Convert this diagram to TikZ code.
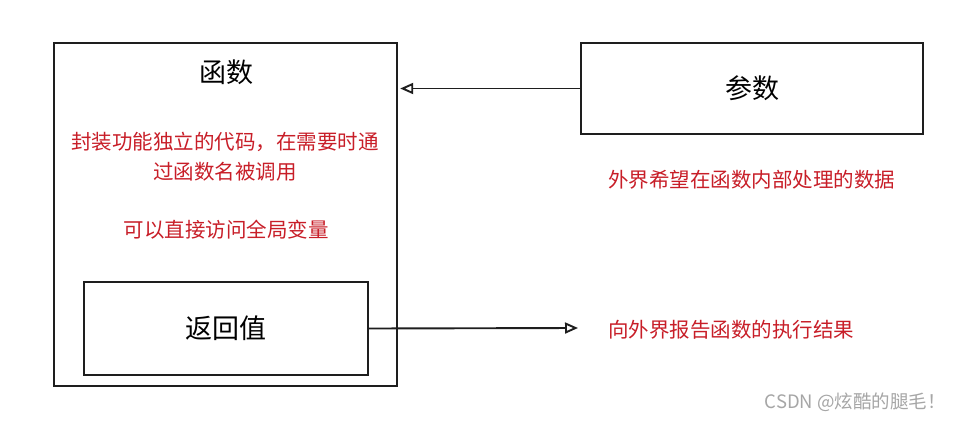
\documentclass[tikz,border=0pt]{standalone}
\usepackage{fontspec}
\setmainfont{Noto Sans CJK SC}
\usetikzlibrary{arrows.meta}
\definecolor{redtxt}{RGB}{200,30,40}
\definecolor{linec}{RGB}{30,30,30}
\begin{document}
\begin{tikzpicture}[x=1pt,y=-1pt,
  box/.style={draw=linec,line width=1.8pt},
  title/.style={font=\fontsize{27}{32}\selectfont,text=black},
  note/.style={font=\fontsize{20.5}{30}\selectfont,text=redtxt,inner sep=0pt},
  conn/.style={draw=linec,line width=1.9pt,-{Triangle[open,length=13pt,width=11pt]}}]
\useasboundingbox[fill=white] (0,0) rectangle (960,420);
\draw[box] (54,43) rectangle (397,386);
\node (fn) at (225.5,214.5) [minimum width=343pt,minimum height=343pt,inner sep=0pt] {};
\node[title] (fntitle) at (226,72) {函数};
\node[note,anchor=west] (d1) at (71,142) {封装功能独立的代码，在需要时通};
\node[note,anchor=west] (d2) at (153,172) {过函数名被调用};
\node[note] (d3) at (226,230) {可以直接访问全局变量};
\node[box,minimum width=284pt,minimum height=93pt,inner sep=0pt,title] (ret) at (226,328.5) {返回值};
\node[box,minimum width=342pt,minimum height=91pt,inner sep=0pt,title] (param) at (752,88.5) {参数};
\node[note,anchor=west] (pdesc) at (608,180) {外界希望在函数内部处理的数据};
\node[note,anchor=west] (rdesc) at (608,330) {向外界报告函数的执行结果};
\coordinate (rend) at (578,328);
\draw[conn,shorten >=3pt] (param.west) -- (param.west -| fn.east);
\draw[conn] (ret.east) -- (rend);
\node[anchor=east,text=black!35,font=\fontsize{18.5}{22}\selectfont,inner sep=0pt] (wm) at (946,402) {CSDN @炫酷的腿毛！};
\end{tikzpicture}
\end{document}
